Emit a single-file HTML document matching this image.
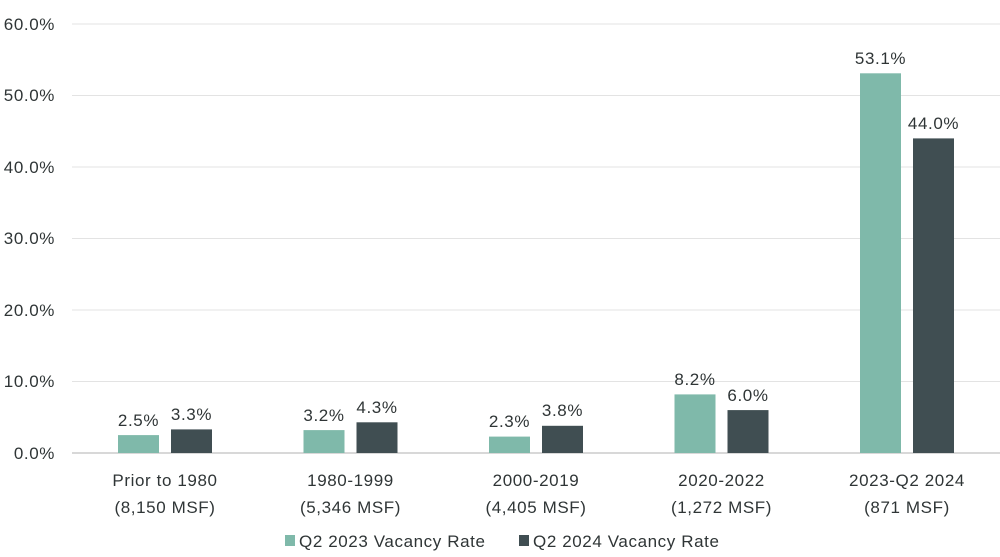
<!DOCTYPE html>
<html><head><style>body{margin:0;background:#fff}svg{display:block}text{font-family:"Liberation Sans",sans-serif;fill:#2f3536;font-size:17px;letter-spacing:0.6px}</style></head><body>
<svg width="1000" height="557" xmlns="http://www.w3.org/2000/svg">
<g stroke="#e3e3e3" stroke-width="1">
<line x1="72" x2="1000" y1="24" y2="24"/><line x1="72" x2="1000" y1="95.5" y2="95.5"/><line x1="72" x2="1000" y1="167" y2="167"/><line x1="72" x2="1000" y1="238.5" y2="238.5"/><line x1="72" x2="1000" y1="310" y2="310"/><line x1="72" x2="1000" y1="381.5" y2="381.5"/><line x1="72" x2="1000" y1="453" y2="453" stroke="#d8d8d8" stroke-width="2"/>
</g>
<g text-anchor="end">
<text x="55" y="30">60.0%</text><text x="55" y="101">50.0%</text><text x="55" y="173">40.0%</text><text x="55" y="244">30.0%</text><text x="55" y="316">20.0%</text><text x="55" y="387">10.0%</text><text x="55" y="459">0.0%</text>
</g>
<g fill="#7fb9aa">
<rect x="118" y="435.1" width="41" height="17.9"/><rect x="303.5" y="430.1" width="41" height="22.9"/><rect x="489" y="436.6" width="41" height="16.4"/><rect x="674.5" y="394.4" width="41" height="58.6"/><rect x="860" y="73.3" width="41" height="379.7"/>
</g>
<g fill="#404e52">
<rect x="171" y="429.4" width="41" height="23.6"/><rect x="356.5" y="422.3" width="41" height="30.7"/><rect x="542" y="425.8" width="41" height="27.2"/><rect x="727.5" y="410.1" width="41" height="42.9"/><rect x="913" y="138.4" width="41" height="314.6"/>
</g>
<g text-anchor="middle">
<text x="138.5" y="426">2.5%</text><text x="191.5" y="420">3.3%</text>
<text x="324" y="421">3.2%</text><text x="377" y="413">4.3%</text>
<text x="509.5" y="427">2.3%</text><text x="562.5" y="416">3.8%</text>
<text x="695" y="385">8.2%</text><text x="748" y="401">6.0%</text>
<text x="880.5" y="64">53.1%</text><text x="933.5" y="129">44.0%</text>
<text x="165" y="486">Prior to 1980</text><text x="165" y="513">(8,150 MSF)</text>
<text x="350.5" y="486">1980-1999</text><text x="350.5" y="513">(5,346 MSF)</text>
<text x="536" y="486">2000-2019</text><text x="536" y="513">(4,405 MSF)</text>
<text x="721.5" y="486">2020-2022</text><text x="721.5" y="513">(1,272 MSF)</text>
<text x="907" y="486">2023-Q2 2024</text><text x="907" y="513">(871 MSF)</text>
</g>
<rect x="285" y="535" width="10" height="11" fill="#7fb9aa"/><text x="299" y="547">Q2 2023 Vacancy Rate</text>
<rect x="519" y="535" width="10" height="11" fill="#404e52"/><text x="533" y="547">Q2 2024 Vacancy Rate</text>
</svg>
</body></html>
